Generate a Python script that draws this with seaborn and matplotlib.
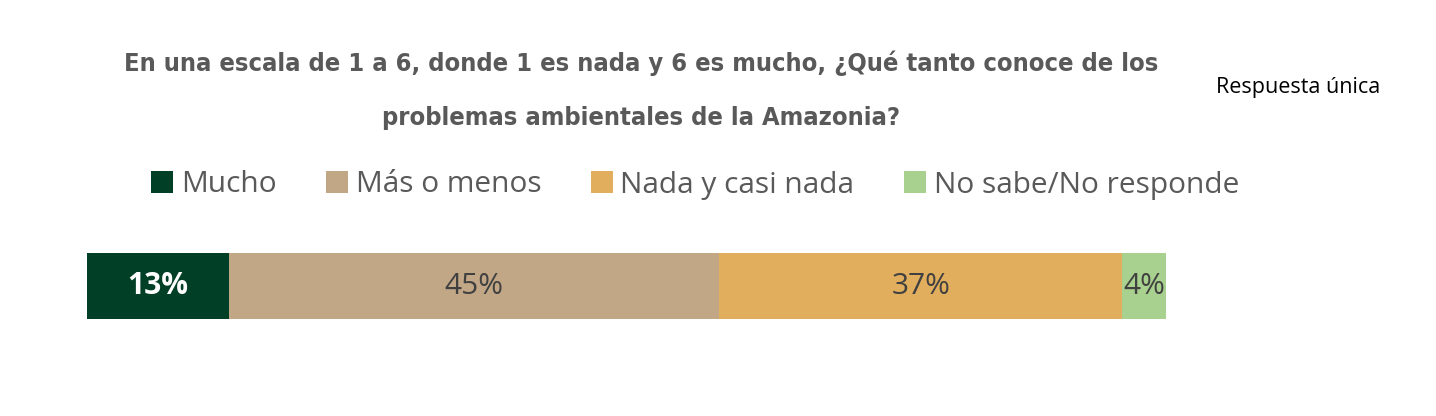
import pandas as pd
import seaborn as sns
import matplotlib.pyplot as plt
from matplotlib import font_manager
from matplotlib.patches import Patch

categories = ["Mucho", "Más o menos", "Nada y casi nada", "No sabe/No responde"]
values = [13, 45, 37, 4]
colors = ["#013f26", "#c2a787", "#e1ae5d", "#a8d08e"]
label_colors = ["white", "#404040", "#404040", "#404040"]
label_weights = ["bold", "normal", "normal", "normal"]

title = ("En una escala de 1 a 6, donde 1 es nada y 6 es mucho, ¿Qué tanto conoce de los\n"
         "problemas ambientales de la Amazonia?")
note = "Respuesta única"

sns.set_theme(style="white")
plt.rcParams["font.family"] = ["Open Sans", "DejaVu Sans"]

# pick a narrow font for the title if one is installed
installed = {(f.name, f.stretch) for f in font_manager.fontManager.ttflist}
title_font = dict(family="DejaVu Sans", fontstretch="normal")
for name, stretch in [("Roboto Condensed", "normal"), ("Liberation Sans Narrow", "normal"),
                      ("DejaVu Sans", "condensed"), ("DejaVu Sans", "semi-condensed")]:
    if (name, stretch) in installed:
        title_font = dict(family=name, fontstretch=stretch)
        break

W, H = 1436, 416
fig = plt.figure(figsize=(W / 100, H / 100), dpi=100)
ax = fig.add_axes([87 / W, (H - 319) / H, 1079 / W, 66 / H])

df = pd.DataFrame({"cat": categories, "value": values})
df["cum"] = df["value"].cumsum()
df["row"] = "r"

# stacked bar: draw cumulative totals from the largest down
for i in reversed(range(len(df))):
    sns.barplot(data=df.iloc[[i]], x="cum", y="row", orient="h", color=colors[i],
                width=1.0, saturation=1, linewidth=0, ax=ax)

starts = df["cum"] - df["value"]
for i, row in df.iterrows():
    ax.text(starts[i] + row["value"] / 2, 0, f"{row['value']}%", ha="center", va="center",
            color=label_colors[i], fontsize=21.5, fontweight=label_weights[i])

ax.set_xlim(0, df["cum"].iloc[-1])
ax.set_ylim(0.5, -0.5)
ax.axis("off")

# title, scaled to the reference width
t = fig.text(641 / W, 1 - 90 / H, title, ha="center", va="center", color="#595959",
             fontweight="bold", fontsize=30, linespacing=2.6, **title_font)
fig.canvas.draw()
bb = t.get_window_extent()
t.set_fontsize(30 * 1033 / bb.width)

fig.text(1298 / W, 1 - 88 / H, note, ha="center", va="center", color="black", fontsize=15.5)

handles = [Patch(facecolor=c, edgecolor="none") for c in colors]
fig.legend(handles, categories, loc="center", bbox_to_anchor=(695 / W, 1 - 185 / H),
           ncol=4, frameon=False, fontsize=21.5, labelcolor="#595959",
           handlelength=0.75, handleheight=0.75, handletextpad=0.25, columnspacing=1.65)

fig.savefig("out.png", dpi=100)
